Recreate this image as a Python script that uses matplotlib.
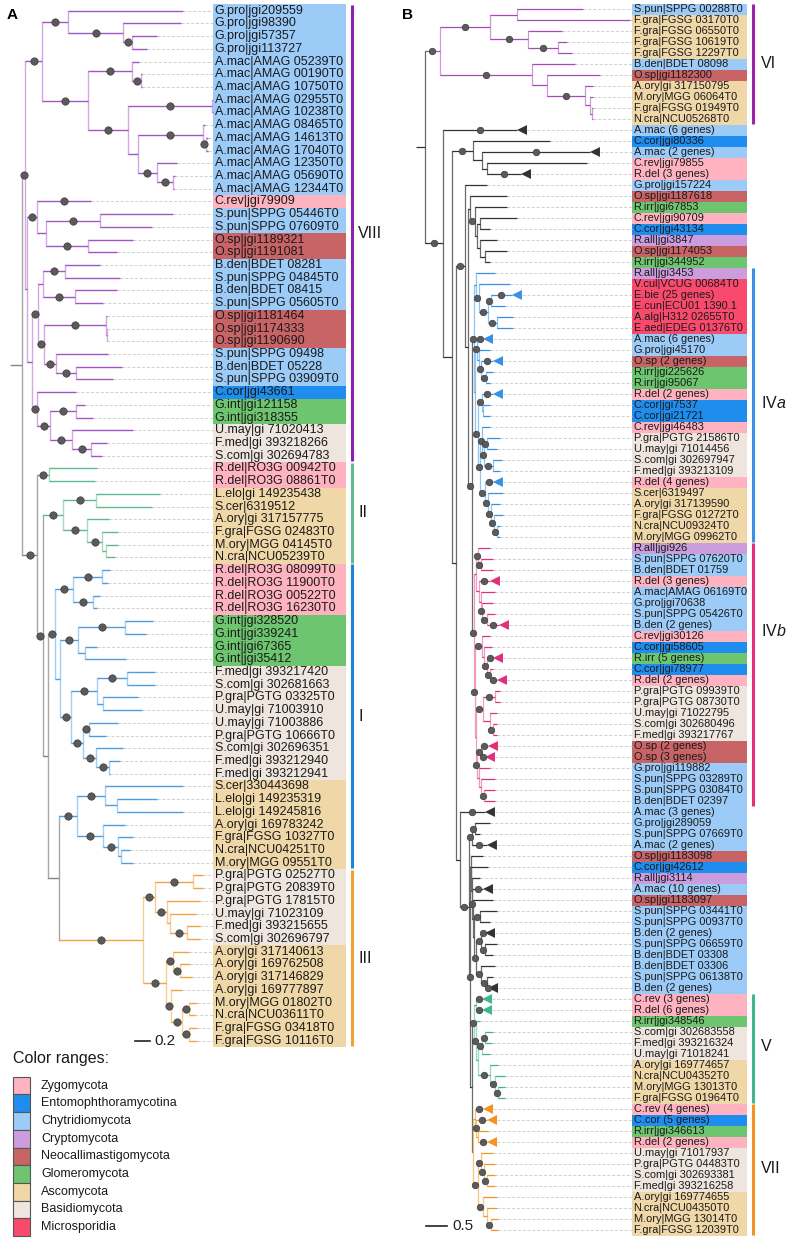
import matplotlib
matplotlib.use("Agg")
import matplotlib.pyplot as plt
from matplotlib.patches import Rectangle, Polygon

plt.rcParams['font.family'] = ['Liberation Sans', 'DejaVu Sans']
plt.rcParams['mathtext.fontset'] = 'custom'
plt.rcParams['mathtext.rm'] = 'Liberation Sans'
plt.rcParams['mathtext.it'] = 'Liberation Sans:italic'

# ---- colour ranges (taxonomic groups) ----
groups = ["Zygomycota", "Entomophthoramycotina", "Chytridiomycota", "Cryptomycota",
          "Neocallimastigomycota", "Glomeromycota", "Ascomycota", "Basidiomycota",
          "Microsporidia"]
group_colors = ["#ffb3c1", "#1f8ded", "#9ccbf8", "#cc9ddc", "#c86366",
                "#6dc56f", "#efd7a8", "#eee5de", "#f94a6e"]
prefix_group = {
    "R.del": 0, "C.rev": 0,
    "C.cor": 1,
    "G.pro": 2, "A.mac": 2, "S.pun": 2, "B.den": 2,
    "R.all": 3,
    "O.sp": 4,
    "G.int": 5, "R.irr": 5,
    "A.ory": 6, "F.gra": 6, "M.ory": 6, "N.cra": 6, "S.cer": 6, "L.elo": 6,
    "U.may": 7, "F.med": 7, "S.com": 7, "P.gra": 7,
    "V.cul": 8, "E.bie": 8, "E.cun": 8, "A.alg": 8, "E.aed": 8,
}

# ---- panel A leaves (top to bottom) ----
labels_a = [
    "G.pro|jgi209559", "G.pro|jgi98390", "G.pro|jgi57357", "G.pro|jgi113727",
    "A.mac|AMAG 05239T0", "A.mac|AMAG 00190T0", "A.mac|AMAG 10750T0", "A.mac|AMAG 02955T0",
    "A.mac|AMAG 10238T0", "A.mac|AMAG 08465T0", "A.mac|AMAG 14613T0", "A.mac|AMAG 17040T0",
    "A.mac|AMAG 12350T0", "A.mac|AMAG 05690T0", "A.mac|AMAG 12344T0",
    "C.rev|jgi79909", "S.pun|SPPG 05446T0", "S.pun|SPPG 07609T0", "O.sp|jgi1189321",
    "O.sp|jgi1191081", "B.den|BDET 08281", "S.pun|SPPG 04845T0", "B.den|BDET 08415",
    "S.pun|SPPG 05605T0", "O.sp|jgi1181464", "O.sp|jgi1174333", "O.sp|jgi1190690",
    "S.pun|SPPG 09498", "B.den|BDET 05228", "S.pun|SPPG 03909T0",
    "C.cor|jgi43661", "G.int|jgi121158", "G.int|jgi318355",
    "U.may|gi 71020413", "F.med|gi 393218266", "S.com|gi 302694783",
    "R.del|RO3G 00942T0", "R.del|RO3G 08861T0",
    "L.elo|gi 149235438", "S.cer|6319512", "A.ory|gi 317157775", "F.gra|FGSG 02483T0",
    "M.ory|MGG 04145T0", "N.cra|NCU05239T0",
    "R.del|RO3G 08099T0", "R.del|RO3G 11900T0", "R.del|RO3G 00522T0", "R.del|RO3G 16230T0",
    "G.int|jgi328520", "G.int|jgi339241", "G.int|jgi67365", "G.int|jgi35412",
    "F.med|gi 393217420", "S.com|gi 302681663", "P.gra|PGTG 03325T0", "U.may|gi 71003910",
    "U.may|gi 71003886", "P.gra|PGTG 10666T0", "S.com|gi 302696351", "F.med|gi 393212940",
    "F.med|gi 393212941",
    "S.cer|330443698", "L.elo|gi 149235319", "L.elo|gi 149245816", "A.ory|gi 169783242",
    "F.gra|FGSG 10327T0", "N.cra|NCU04251T0", "M.ory|MGG 09551T0",
    "P.gra|PGTG 02527T0", "P.gra|PGTG 20839T0", "P.gra|PGTG 17815T0", "U.may|gi 71023109",
    "F.med|gi 393215655", "S.com|gi 302696797",
    "A.ory|gi 317140613", "A.ory|gi 169762508", "A.ory|gi 317146829", "A.ory|gi 169777897",
    "M.ory|MGG 01802T0", "N.cra|NCU03611T0", "F.gra|FGSG 03418T0", "F.gra|FGSG 10116T0",
]

# ---- panel B leaves (top to bottom) ----
labels_b = [
    "S.pun|SPPG 00288T0", "F.gra|FGSG 03170T0", "F.gra|FGSG 06550T0", "F.gra|FGSG 10619T0",
    "F.gra|FGSG 12297T0", "B.den|BDET 08098", "O.sp|jgi1182300", "A.ory|gi 317150795",
    "M.ory|MGG 06064T0", "F.gra|FGSG 01949T0", "N.cra|NCU05268T0",
    "A.mac (6 genes)", "C.cor|jgi80336", "A.mac (2 genes)", "C.rev|jgi79855", "R.del (3 genes)",
    "G.pro|jgi157224", "O.sp|jgi1187618", "R.irr|jgi67853", "C.rev|jgi90709", "C.cor|jgi43134",
    "R.all|jgi3847", "O.sp|jgi1174053", "R.irr|jgi344952",
    "R.all|jgi3453", "V.cul|VCUG 00684T0", "E.bie (25 genes)", "E.cun|ECU01 1390.1",
    "A.alg|H312 02655T0", "E.aed|EDEG 01376T0", "A.mac (6 genes)", "G.pro|jgi45170",
    "O.sp (2 genes)", "R.irr|jgi225626", "R.irr|jgi95067", "R.del (2 genes)", "C.cor|jgi7537",
    "C.cor|jgi21721", "C.rev|jgi46483", "P.gra|PGTG 21586T0", "U.may|gi 71014456",
    "S.com|gi 302697947", "F.med|gi 393213109", "R.del (4 genes)", "S.cer|6319497",
    "A.ory|gi 317139590", "F.gra|FGSG 01272T0", "N.cra|NCU09324T0", "M.ory|MGG 09962T0",
    "R.all|jgi926", "S.pun|SPPG 07620T0", "B.den|BDET 01759", "R.del (3 genes)",
    "A.mac|AMAG 06169T0", "G.pro|jgi70638", "S.pun|SPPG 05426T0", "B.den (2 genes)",
    "C.rev|jgi30126", "C.cor|jgi58605", "R.irr (5 genes)", "C.cor|jgi78977", "R.del (2 genes)",
    "P.gra|PGTG 09939T0", "P.gra|PGTG 08730T0", "U.may|gi 71022795", "S.com|gi 302680496",
    "F.med|gi 393217767", "O.sp (2 genes)", "O.sp (3 genes)", "G.pro|jgi119882",
    "S.pun|SPPG 03289T0", "S.pun|SPPG 03084T0", "B.den|BDET 02397",
    "A.mac (3 genes)", "G.pro|jgi289059", "S.pun|SPPG 07669T0", "A.mac (2 genes)",
    "O.sp|jgi1183098", "C.cor|jgi42612", "R.all|jgi3114", "A.mac (10 genes)", "O.sp|jgi1183097",
    "S.pun|SPPG 03441T0", "S.pun|SPPG 00937T0", "B.den (2 genes)", "S.pun|SPPG 06659T0",
    "B.den|BDET 03308", "B.den|BDET 03306", "S.pun|SPPG 06138T0", "B.den (2 genes)",
    "C.rev (3 genes)", "R.del (6 genes)", "R.irr|jgi348546", "S.com|gi 302683558",
    "F.med|gi 393216324", "U.may|gi 71018241", "A.ory|gi 169774657", "N.cra|NCU04352T0",
    "M.ory|MGG 13013T0", "F.gra|FGSG 01964T0",
    "C.rev (4 genes)", "C.cor (5 genes)", "R.irr|jgi346613", "R.del (2 genes)",
    "U.may|gi 71017937", "P.gra|PGTG 04483T0", "S.com|gi 302693381", "F.med|gi 393216258",
    "A.ory|gi 169774655", "N.cra|NCU04350T0", "M.ory|MGG 13014T0", "F.gra|FGSG 12039T0",
]

# ---- trees: newick, leaf = row index, "*" = supported node, lengths in subst./site ----
A_VIII_TOP = ("((0:1.533,(1:0.773,(2:0.333,3:0.2)*:0.12)*:0.733)*:0.347,"
              "((4:0.093,(5:0.013,6:0.013)*:0.12)*:0.587,((7:0.013,8:0.013)*:1.12,"
              "((9:0.027,(10:0.027,11:0.027)*:0.04)*:0.867,(12:0.267,(13:0.027,14:0.013)*:0.213)*:0.253)"
              ":0.133)*:0.533)*:0.613)")
A_VIII_LOW = ("((15*:0.72,((16:0.973,17:0.693)*:0.72,(18:0.6,19:0.387)*:0.56):0.12)*:0.133,"
              "((((20:0.467,21:0.733)*:0.293,(22:0.56,23:0.373)*:0.427):0.067,"
              "((24:0.013,(25:0.007,26:0.007):0.007)*:0.827,(27:0.693,(28:0.613,29:0.493)*:0.267)*:0.16)*:0.08)*:0.08,"
              "(30:0.52,((31:0.12,32:0.227)*:0.347,(33:0.813,(34:0.213,35:0.147)*:0.253)*:0.293)*:0.173)*:0.067)"
              ":0.067)")
A_II_RDEL = "(36:0.64,37:0.613)"
A_II_ASCO = "((38:0.853,39:0.747)*:0.44,(40:0.293,(41:0.213,(42:0.16,43:0.12):0.053)*:0.2)*:0.32)"
A_I_UP = ("(((44:0.107,45:0.08)*:0.387,(46:0.093,47:0.053)*:0.267)*:0.24,"
          "(((48:0.373,49:0.28)*:0.627,(50:0.16,51:0.547):0.093)*:0.24,"
          "(((52:0.373,53:0.373)*:0.4,(54:0.467,55:0.52):0.08)*:0.347,"
          "((56:0.387,57:0.227)*:0.08,(58:0.36,(59:0.147,60:0.013)*:0.173)*:0.173)*:0.16)*:0.147):0.067)")
A_I_ASCO = "((61:1.04,(62:0.533,63:0.88):0.16)*:0.373,(64:0.293,(65:0.2,(66:0.12,67:0.16):0.04)*:0.2)*:0.347)"
A_III = ("(((68:0.133,69:0.133)*:0.507,(70:0.44,(71:0.347,(72:0.173,73:0.173)*:0.227):0.04)*:0.16)*:0.16,"
         "((74:0.213,(75:0.133,76:0.16)*:0.093)*:0.093,"
         "(77:0.147,((78:0.107,79:0.08)*:0.093,(80:0.107,81:0.107)*:0.093)*:0.147)*:0.067)*:0.307)")
TREE_A = (f"(({A_VIII_TOP}*:0.227,{A_VIII_LOW}:0.027)*:0.04,"
          f"({A_II_RDEL}*:0.16,({A_II_ASCO}*:0.267,({A_I_UP}*:0.093,"
          f"({A_I_ASCO}*:0.24,{A_III}*:1.12):0.147):0.067)*:0.08)*:0.2):0.16;")

B_VI = ("(((0:1.571,1:2.69):0.643,(2:0.81,(3:0.214,4:0.333)*:0.714)*:0.905)*:1.19,"
        "(5:1.024,(6:1.262,(7:0.19,(8:0.071,(9:0.024,10:0.024):0.048):0.119)*:0.905):0.357)*:2.19)")
B_TOP = "(12:1.833,(13*:2.571,(14:2.381,15*:0.81):0.119):0.214)"
B_K = "(17:0.881,(18:0.762,((19:0.881,20:0.238):0.071,(21:0.405,(22:0.524,23:0.119):0.119):0.071):0.048)*:0.119)"
B_MICRO = "(24:0.452,(25:0.738,((26*:0.5,27:0.333)*:0.071,(28:0.381,29:0.381)*:0.214)*:0.214)*:0.071)"
B_IVA_REST = ("((30*:0.143,(31:0.262,(32*:0.286,(33:0.167,34:0.095)*:0.119)*:0.048):0.048)*:0.048,"
              "((35*:0.262,(36:0.167,37:0.167):0.024)*:0.095,"
              "((38:0.19,((39:0.31,40:0.238)*:0.071,(41:0.214,42:0.167)*:0.214)*:0.048)*:0.048,"
              "(43*:0.19,(44:0.357,(45:0.214,(46:0.214,(47:0.071,48:0.071)*:0.071)*:0.071)*:0.071)*:0.071)*:0.119)"
              "*:0.048)*:0.071)")
B_IVB_UP = ("((49:0.286,(50:0.286,51:0.286)*:0.071)*:0.048,"
            "(52*:0.262,(53:0.333,(54:0.262,(55:0.19,56*:0.286)*:0.119)*:0.024):0.048):0.071)")
B_IVB_LOW = ("((57:0.19,(58:0.19,(59*:0.143,(60:0.071,61*:0.167)*:0.071)*:0.071):0.048)*:0.167,"
             "(((62:0.119,63:0.119)*:0.286,(64:0.167,(65:0.095,66:0.095)*:0.071):0.167)*:0.167,"
             "((67*:0.167,68*:0.095)*:0.095,(69:0.262,(70:0.333,(71:0.262,72:0.262)*:0.071):0.048):0.048)*:0.024)"
             ":0.024)")
B_SA = "((74:0.357,75:0.119)*:0.071,76*:0.357)"
B_LADDER = ("(77:0.286,(78:0.393,(79:0.19,(80*:0.25,(81:0.476,((82:0.405,83:0.238)*:0.143,"
            "((84*:0.095,(85:0.286,86:0.19)*:0.095)*:0.119,(87:0.333,(88:0.143,89*:0.024)*:0.143)*:0.119)"
            "*:0.048):0.024):0.012)*:0.012):0.012):0.012)")
B_V = ("((90*:0.143,91*:0.143):0.048,(92:0.095,(((93:0.19,94:0.167)*:0.071,95:0.19)*:0.095,"
       "(96:0.19,(97:0.238,(98:0.167,99:0.167)*:0.071)*:0.119)*:0.286):0.048)*:0.048)")
B_VII = ("((100*:0.19,(101*:0.262,(102:0.238,103*:0.214):0.048)*:0.024):0.048,"
         "((104:0.286,(105:0.262,(106:0.19,107:0.19)*:0.071)*:0.071)*:0.071,"
         "(108:0.333,(109:0.238,(110:0.167,111:0.167)*:0.095):0.095)*:0.119)*:0.119)")
TREE_B = (f"({B_VI}*:0.357,(11*:1.762,({B_TOP}*:0.5,((16:0.524,({B_K}:0.048,"
          f"(({B_MICRO}:0.048,{B_IVA_REST}:0.024)*:0.048,({B_IVB_UP}:0.048,{B_IVB_LOW}*:0.024)*:0.048)*:0.095)"
          f":0.071)*:0.221,(73*:0.595,({B_SA}*:0.071,({B_LADDER}:0.012,({B_V}*:0.048,{B_VII}:0.024)"
          f":0.036)*:0.036)*:0.214):0.102):0.088):0.214)*:0.429):0.214;")

# clades: name, first row, last row
clades_a = [("VIII", 0, 35), ("II", 36, 43), ("I", 44, 67), ("III", 68, 81)]
clades_b = [("VI", 0, 10), ("IV$\\mathit{a}$", 24, 48), ("IV$\\mathit{b}$", 49, 72),
            ("V", 90, 99), ("VII", 100, 111)]
clade_rows_a = [17.5, 39.5, 55.5, 74.5]
clade_rows_b = [5, 35.8, 56.5, 94.3, 105.4]
bar_colors_a = ["#8c1fb0", "#5dbb8e", "#1f80d8", "#f3a033"]
bar_colors_b = ["#a020a8", "#3990e8", "#e0307c", "#43b592", "#f39321"]
tree_colors_a = [("#a157c0", "#d4a8e4"), ("#62b88e", "#a9dbc2"), ("#4f9de0", "#a3cff3"), ("#f2a444", "#f7cf95")]
tree_colors_b = [("#a44bb4", "#d09ad8"), ("#3590e8", "#8ec5f3"), ("#e0307c", "#f29bc1"),
                 ("#3fb493", "#97d8c5"), ("#f39321", "#f8c27f")]


def parse_newick(text):
    s = "".join(text.split())
    pos = 0

    def number():
        nonlocal pos
        j = pos
        while s[pos] in "0123456789.":
            pos += 1
        return s[j:pos]

    def node():
        nonlocal pos
        n = {"children": [], "leaf": None, "sup": False, "len": 0.0}
        if s[pos] == "(":
            pos += 1
            while True:
                n["children"].append(node())
                ch = s[pos]
                pos += 1
                if ch == ")":
                    break
        else:
            n["leaf"] = int(number())
        if s[pos] == "*":
            n["sup"] = True
            pos += 1
        if s[pos] == ":":
            pos += 1
            n["len"] = float(number())
        return n

    return node()


def layout(n, x0=0.0):
    n["x"] = x0 + n["len"]
    if n["leaf"] is not None:
        n["y"] = n["lo"] = n["hi"] = n["leaf"]
        return
    for c in n["children"]:
        layout(c, n["x"])
    kids = n["children"]
    n["y"] = (kids[0]["y"] + kids[-1]["y"]) / 2
    n["lo"] = min(c["lo"] for c in kids)
    n["hi"] = max(c["hi"] for c in kids)


def group_of(label):
    return prefix_group[label.split("|")[0].split(" ")[0]]


def draw_panel(ax, tree, labels, clades, clade_rows, bar_cols, tcols, backbone, cfg):
    root = parse_newick(tree)
    layout(root)
    dots = []

    def colour(n):
        for (name, a, b), col in zip(clades, tcols):
            if n["lo"] >= a and n["hi"] <= b:
                return col
        return backbone

    def walk(n, px):
        dark, light = colour(n)
        x, y = n["x"], n["y"]
        ax.plot([px, x], [y, y], color=dark, lw=cfg["lw"], solid_capstyle="butt", zorder=3)
        if n["sup"]:
            dots.append(((px + x) / 2, y))
        if n["leaf"] is None:
            kids = n["children"]
            ax.plot([x, x], [kids[0]["y"], kids[-1]["y"]], color=light, lw=cfg["lw"], zorder=2)
            for c in kids:
                walk(c, x)
        else:
            end = x
            if "genes" in labels[n["leaf"]]:
                tw = cfg["tri_w"]
                ax.add_patch(Polygon([(x, y), (x + tw, y - 0.45), (x + tw, y + 0.45)], closed=True,
                                     facecolor=dark, edgecolor="none", zorder=3))
                end = x + tw
            ax.plot([end, cfg["band"][0]], [y, y], color="#cfcfcf", lw=0.7,
                    ls=(0, (3, 2)), zorder=1)

    walk(root, 0.0)
    xs, ys = zip(*dots)
    ax.scatter(xs, ys, s=cfg["dot"], color="#5b5b5b", edgecolors="#3b3b3b",
               linewidths=0.5, zorder=5)

    # colour range bands
    x0, x1 = cfg["band"]
    start = 0
    for i in range(1, len(labels) + 1):
        if i == len(labels) or group_of(labels[i]) != group_of(labels[start]):
            ax.add_patch(Rectangle((x0, start - 0.5), x1 - x0, i - start,
                                   facecolor=group_colors[group_of(labels[start])],
                                   edgecolor="none", zorder=0))
            start = i
    for i, lab in enumerate(labels):
        ax.text(cfg["text_x"], i, lab, fontsize=cfg["fs"], va="center", ha="left",
                color="#1a1a1a", zorder=4)

    # clade bars
    for (name, a, b), row, col in zip(clades, clade_rows, bar_cols):
        ax.plot([cfg["bar_x"]] * 2, [a - 0.45, b + 0.45], color=col, lw=2.2,
                solid_capstyle="butt")
        ax.text(cfg["num_x"], row, name, fontsize=11.5, va="center", ha="left", color="#1a1a1a")

    # scale bar
    sx, sy, sl = cfg["scale"]
    ax.plot([sx, sx + sl], [sy, sy], color="#222222", lw=1.2)
    ax.text(sx + sl + cfg["scale_gap"], sy, f"{sl:g}", fontsize=11, va="center", ha="left",
            color="#222222")


fig = plt.figure(figsize=(7.86, 12.4), dpi=100)
fig.patch.set_facecolor("white")

axA = fig.add_axes([0, 0, 0.5, 1])
axA.set_xlim(-10 / 75, 383 / 75)
axA.set_ylim((1240 - 10.7) / 12.716, -10.7 / 12.716)
axA.axis("off")
draw_panel(axA, TREE_A, labels_a, clades_a, clade_rows_a, bar_colors_a, tree_colors_a,
           ("#858585", "#a8a8a8"),
           dict(lw=1.0, tri_w=0.13, dot=28, fs=9, band=(2.7067, 4.48), text_x=2.727,
                bar_x=4.56, num_x=4.64, scale=(1.667, 81.02, 0.2), scale_gap=0.053))

axB = fig.add_axes([0.5, 0, 0.5, 1])
axB.set_xlim(-23 / 42, 370 / 42)
axB.set_ylim((1240 - 9) / 11, -9 / 11)
axB.axis("off")
draw_panel(axB, TREE_B, labels_b, clades_b, clade_rows_b, bar_colors_b, tree_colors_b,
           ("#333333", "#6b6b6b"),
           dict(lw=0.9, tri_w=0.238, dot=22, fs=7.9, band=(5.143, 7.881), text_x=5.179,
                bar_x=8.024, num_x=8.214, scale=(0.238, 110.64, 0.5), scale_gap=0.12))

# overlay in pixel units: panel letters and legend
axL = fig.add_axes([0, 0, 1, 1])
axL.set_xlim(0, 786)
axL.set_ylim(1240, 0)
axL.axis("off")
axL.text(7, 15, "A", fontsize=11, fontweight="bold", va="center", ha="left")
axL.text(402, 15, "B", fontsize=11, fontweight="bold", va="center", ha="left")
axL.text(13, 1058, "Color ranges:", fontsize=11.5, va="center", ha="left", color="#1a1a1a")
for k, (g, c) in enumerate(zip(groups, group_colors)):
    top = 1076.7 + k * 17.7
    axL.add_patch(Rectangle((13, top), 17, 17.7, facecolor=c, edgecolor="#555555", lw=0.8))
    axL.text(41, top + 8.85, g, fontsize=9, va="center", ha="left", color="#1a1a1a")

fig.savefig("out.png", dpi=100)
